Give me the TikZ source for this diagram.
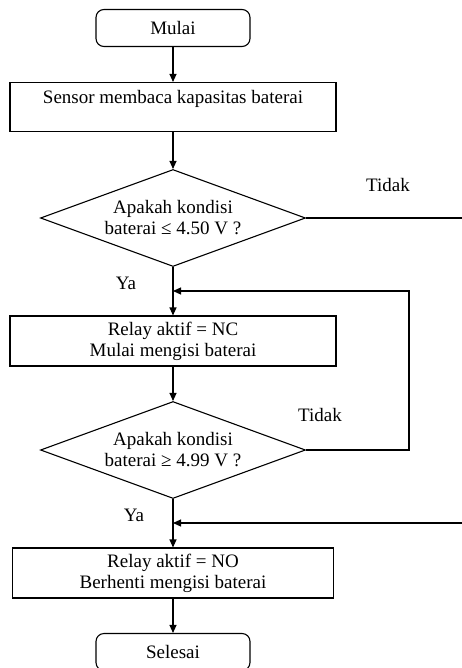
\documentclass[tikz,border=0pt]{standalone}
\usepackage{fontspec}
\setmainfont{Liberation Serif}
\usetikzlibrary{shapes.geometric,arrows.meta}

\tikzset{
  every node/.style={font=\fontsize{19}{21}\selectfont,align=center},
  terminal/.style={draw,rounded corners=8pt,minimum width=154pt,minimum height=37pt},
  process/.style={draw,minimum width=326pt,minimum height=49pt},
  decision/.style={draw,diamond,aspect=2.73,inner sep=0pt,minimum width=265pt,minimum height=97pt},
  answer/.style={inner sep=0pt},
  flow/.style={-{Triangle[length=8pt,width=7pt]}}
}

\begin{document}
\begin{tikzpicture}[x=1pt,y=-1pt,line width=1.1pt]
      \useasboundingbox (0,0) rectangle (462,668);

      \node [terminal] (mulai) at (173,28) {Mulai};
      \node [process] (sensor) at (173,107) {Sensor membaca kapasitas baterai\\ ~};
      \node [decision] (cek1) at (173,218) {Apakah kondisi\\baterai ≤ 4.50 V ?};
      \node [process,minimum height=50pt] (relay1) at (173,341) {Relay aktif = NC\\Mulai mengisi baterai};
      \node [decision] (cek2) at (173,450) {Apakah kondisi\\baterai ≥ 4.99 V ?};
      \node [process,minimum width=321pt,minimum height=50pt] (relay2) at (173,573) {Relay aktif = NO\\Berhenti mengisi baterai};
      \node [terminal] (selesai) at (173,652) {Selesai};

      \node [answer] (tidak1) at (388,185) {Tidak};
      \node [answer] (ya1) at (126,283) {Ya};
      \node [answer] (tidak2) at (320,415) {Tidak};
      \node [answer] (ya2) at (134,515) {Ya};

      \coordinate (j1) at (173,291);
      \coordinate (j2) at (173,523);
      \coordinate (loop) at (409,291);
      \coordinate (keluar) at (470,218);
      \coordinate (masuk) at (470,523);

      \foreach \from/\to in {mulai/sensor,sensor/cek1,cek1/relay1,relay1/cek2,cek2/relay2,relay2/selesai}
        \draw [flow] (\from) -- (\to);

      \draw (cek1.east) -- (keluar);
      \draw [flow] (cek2.east) -| (loop) -- (j1);
      \draw [flow] (masuk) -- (j2);
    \end{tikzpicture}
\end{document}
